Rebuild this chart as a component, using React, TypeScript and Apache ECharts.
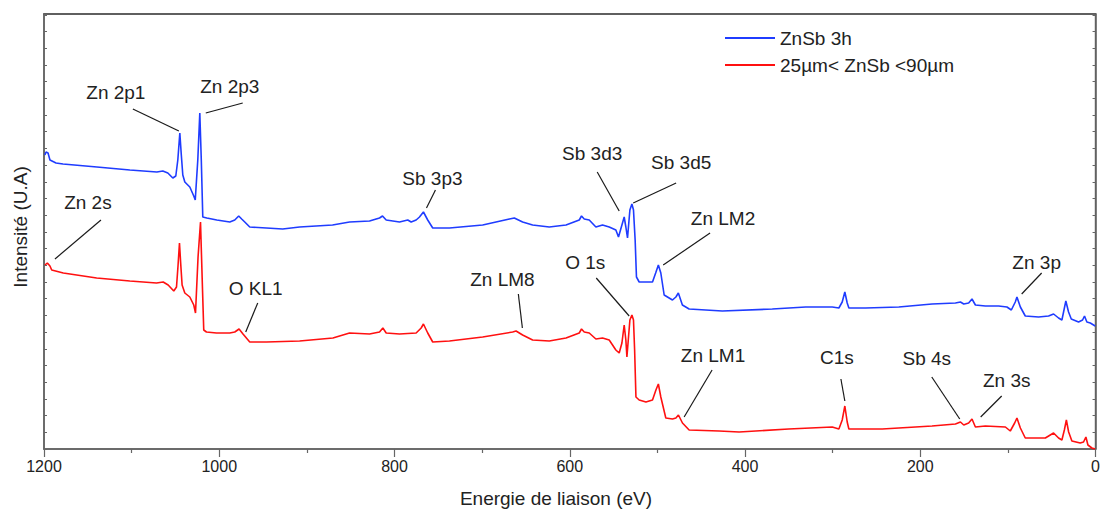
import React, { useEffect, useRef } from "react";
import * as echarts from "echarts";

// Binding energy (eV), intensity (a.u.)
const blueName = "ZnSb 3h";
const redName = "25µm< ZnSb <90µm";

const blueSpectrum: [number, number][] = [
  [1199, 294], [1197.7, 297], [1195.4, 296], [1193.2, 289], [1186.3, 286], [1178.3, 285], [1139.6, 282], [1102, 279],
  [1071.2, 277], [1064.4, 278], [1058.7, 276], [1053, 271], [1049.6, 273], [1047.3, 289], [1045, 316], [1043.3, 294],
  [1041.6, 274], [1039.3, 267], [1033.6, 262], [1029.1, 253], [1027.4, 249], [1024.5, 289], [1022.2, 336], [1020.5, 289],
  [1018.8, 232], [1014.2, 231], [1002.8, 229], [988, 227], [982.3, 229], [977.8, 233], [974.4, 230], [970.9, 227],
  [965.2, 222], [946.2, 221], [927.6, 220], [908.3, 222], [870.7, 224], [851.3, 227], [828.5, 228], [817.1, 231],
  [813.7, 233], [809.5, 229], [794.3, 227], [784.9, 229], [781, 227], [775.3, 229], [771.5, 232], [767, 237],
  [762.1, 229], [756.4, 221], [737.3, 221], [699.4, 224], [668.9, 230], [663.3, 231], [653.8, 227], [642.4, 224],
  [623.4, 222], [604.3, 224], [589.2, 229], [586.6, 233], [583.5, 230], [577.8, 229], [570.2, 222], [562.6, 224],
  [555, 222], [547.4, 219], [544.4, 212], [540.5, 224], [537.9, 232], [536, 222], [534.1, 211], [531.4, 239],
  [529.1, 245], [527.3, 239], [525.4, 209], [523.9, 172], [520.8, 167], [505.6, 167], [502, 176], [498.9, 184],
  [496.1, 176], [492.3, 154], [482.8, 149], [478.9, 152], [476.1, 156], [471.5, 144], [463.8, 140], [425.9, 138],
  [368.9, 140], [330.8, 142], [300.5, 142], [292.9, 141], [289.1, 147], [286.1, 157], [283.4, 146], [281.5, 141],
  [262.5, 141], [224.5, 142], [186.6, 145], [159.9, 146], [154.2, 147], [150.4, 145], [144.8, 146], [141, 150],
  [137.1, 144], [125.7, 143], [110.6, 143], [101.1, 142], [96.1, 139], [91.6, 147], [89.7, 152], [85.8, 142],
  [80.2, 133], [65, 132], [53.6, 133], [47.9, 135], [42.2, 131], [38.4, 129], [36.5, 137], [33.9, 148],
  [30.8, 137], [27.7, 130], [19.4, 127], [14.8, 129], [12.6, 133], [9.9, 127], [6, 126], [0.4, 123],
];

const redSpectrum: [number, number][] = [
  [1199, 184], [1196.2, 186], [1193.2, 183], [1191.2, 179], [1178, 176], [1139.9, 171], [1102, 168], [1071.6, 166],
  [1064, 167], [1058.3, 164], [1051.9, 158], [1048.8, 162], [1047, 184], [1045.4, 206], [1043.9, 184], [1042.4, 164],
  [1039.3, 156], [1033.6, 152], [1029.1, 144], [1027.1, 136], [1024.2, 192], [1021.4, 227], [1019.1, 159], [1017.7, 119],
  [1014.6, 117], [1003.2, 116], [988, 116], [982.3, 117], [977.4, 120], [972.9, 115], [965.2, 107], [946.2, 107],
  [908.3, 108], [870.3, 111], [851.3, 116], [828.5, 115], [817.1, 117], [813.3, 121], [809.5, 116], [794.3, 115],
  [775.3, 116], [769.6, 121], [767, 125], [762.1, 116], [756.4, 107], [737.3, 108], [699.4, 112], [665.2, 117],
  [661.3, 118], [653.8, 114], [642.4, 109], [623.4, 108], [604.3, 111], [589.2, 116], [586.6, 120], [583.5, 117],
  [577.8, 116], [570.2, 110], [562.6, 111], [555, 109], [547.4, 99], [543.6, 96], [540.5, 106], [537.9, 124],
  [536, 109], [534.8, 92], [531.4, 129], [529.1, 134], [527.3, 129], [526, 99], [524.5, 52], [520.8, 49],
  [513.1, 47], [505.6, 49], [501.7, 59], [498.9, 65], [496.1, 52], [490.4, 31], [482.8, 30], [478.9, 31],
  [476, 34], [471.4, 26], [463.8, 19], [429.6, 18], [406.8, 17], [350.2, 20], [300.5, 22], [292.9, 20],
  [289.1, 29], [286.1, 43], [283.4, 27], [281.5, 20], [243.5, 20], [186.6, 23], [159.9, 25], [154.2, 27],
  [150.4, 24], [144.8, 26], [141, 30], [137.1, 22], [125.7, 23], [102.9, 22], [97.3, 18], [92.3, 26],
  [89.7, 31], [85.8, 21], [80.2, 11], [57.3, 11], [47.9, 16], [42.2, 11], [38.4, 9], [35.6, 19],
  [33.3, 29], [30.7, 17], [27, 8], [17.5, 6], [13.7, 7], [11, 12], [8.7, 4], [4.2, 1], [0.4, 0],
];

// Peak annotations: label position, leader-line start and end (energy, intensity)
const annotations: { text: string; label: [number, number]; from: [number, number]; to: [number, number] }[] = [
  { text: "Zn 2p1", label: [1118, 357], from: [1098.6, 340], to: [1046.1, 318] },
  { text: "Zn 2p3", label: [988, 363], from: [1015.4, 336], to: [973.2, 346] },
  { text: "Zn 2s", label: [1149.9, 247], from: [1135, 229], to: [1187.5, 190] },
  { text: "Sb 3p3", label: [756.7, 271], from: [753.3, 259], to: [763.5, 241] },
  { text: "Sb 3d3", label: [574.4, 296], from: [568.7, 277], to: [543.6, 238] },
  { text: "Sb 3d5", label: [472.9, 287], from: [478.6, 266], to: [527.6, 246] },
  { text: "Zn LM2", label: [425.1, 231], from: [439.9, 216], to: [493.4, 184] },
  { text: "O 1s", label: [582.3, 187], from: [569.8, 171], to: [532.2, 133] },
  { text: "Zn LM8", label: [676.9, 170], from: [658.7, 155], to: [654.1, 121] },
  { text: "O KL1", label: [958.4, 161], from: [956.1, 146], to: [969.8, 117] },
  { text: "Zn LM1", label: [436.5, 94], from: [437.6, 79], to: [469.5, 32] },
  { text: "C1s", label: [295.2, 92], from: [290.6, 70], to: [286.1, 48] },
  { text: "Sb 4s", label: [192.6, 91], from: [186.9, 72], to: [155, 30] },
  { text: "Zn 3s", label: [101.4, 69], from: [107.1, 53], to: [131.1, 32] },
  { text: "Zn 3p", label: [67.2, 187], from: [61.5, 176], to: [84.3, 155] },
];

const xTitle = "Energie de liaison (eV)";
const yTitle = "Intensité (U.A)";

const FONT = "'Liberation Sans', Arial, sans-serif";
const TEXT = "#222222";
const AXIS = "#666666";

export default function App() {
  const ref = useRef<HTMLDivElement>(null);
  useEffect(() => {
    document.body.style.margin = "0";
    if (!ref.current) return;
    const chart = echarts.init(ref.current, undefined, { renderer: "svg" });
    const yMax = 435;
    const yInt = 16.7;
    chart.setOption({
      animation: false,
      backgroundColor: "#ffffff",
      grid: {
        left: 44,
        right: 6,
        top: 14,
        bottom: 61,
        containLabel: false,
        show: true,
        borderColor: "#555555",
        borderWidth: 1.5,
        backgroundColor: "transparent",
      },
      legend: {
        left: 720,
        top: 23,
        orient: "vertical",
        icon: "rect",
        itemWidth: 50,
        itemHeight: 2,
        itemGap: 7,
        textStyle: { fontSize: 19, color: TEXT, fontFamily: FONT, lineHeight: 20 },
        data: [blueName, redName],
      },
      xAxis: [
        {
          type: "value",
          position: "bottom",
          min: 0,
          max: 1200,
          interval: 200,
          inverse: true,
          axisLine: { show: true, onZero: false, lineStyle: { color: AXIS, width: 1.5 } },
          axisTick: { show: true, inside: false, length: 8, lineStyle: { color: AXIS, width: 1.2 } },
          minorTick: { show: true, splitNumber: 2, length: 4, lineStyle: { color: AXIS, width: 1.2 } },
          axisLabel: {
            fontSize: 16,
            color: TEXT,
            fontFamily: FONT,
            margin: 9,
            formatter: (v: number) => String(v),
          },
          splitLine: { show: false },
        },
        {
          type: "value",
          position: "top",
          min: 0,
          max: 1200,
          inverse: true,
          axisLine: { show: true, onZero: false, lineStyle: { color: "#555555", width: 1.5 } },
          axisTick: { show: false },
          axisLabel: { show: false },
          splitLine: { show: false },
        },
      ],
      yAxis: [
        {
          type: "value",
          position: "left",
          min: 0,
          max: yMax,
          interval: yInt,
          axisLine: { show: true, onZero: false, lineStyle: { color: AXIS, width: 1.5 } },
          axisTick: { show: true, inside: true, length: 3, lineStyle: { color: AXIS, width: 1 } },
          axisLabel: { show: false },
          splitLine: { show: false },
        },
        {
          type: "value",
          position: "right",
          min: 0,
          max: yMax,
          interval: yInt,
          axisLine: { show: true, onZero: false, lineStyle: { color: AXIS, width: 1.5 } },
          axisTick: { show: true, inside: true, length: 3, lineStyle: { color: AXIS, width: 1 } },
          axisLabel: { show: false },
          splitLine: { show: false },
        },
      ],
      series: [
        {
          name: blueName,
          type: "line",
          xAxisIndex: 0,
          yAxisIndex: 0,
          data: blueSpectrum,
          symbol: "none",
          lineStyle: { color: "#1f3cff", width: 1.6 },
          itemStyle: { color: "#1f3cff" },
        },
        {
          name: redName,
          type: "line",
          xAxisIndex: 0,
          yAxisIndex: 0,
          data: redSpectrum,
          symbol: "none",
          lineStyle: { color: "#ff1010", width: 1.6 },
          itemStyle: { color: "#ff1010" },
        },
      ],
    });

    const px = (p: [number, number]) =>
      chart.convertToPixel({ xAxisIndex: 0, yAxisIndex: 0 }, p) as number[];
    const graphics: any[] = [];
    annotations.forEach((a) => {
      const l = px(a.label);
      const f = px(a.from);
      const t = px(a.to);
      graphics.push({
        type: "line",
        shape: { x1: f[0], y1: f[1], x2: t[0], y2: t[1] },
        style: { stroke: "#1a1a1a", lineWidth: 1.2 },
        z: 10,
      });
      graphics.push({
        type: "text",
        x: l[0],
        y: l[1],
        style: {
          text: a.text,
          fontSize: 19,
          fontFamily: FONT,
          fill: TEXT,
          align: "center",
          verticalAlign: "middle",
        },
        z: 10,
      });
    });
    graphics.push({
      type: "text",
      x: 556,
      y: 498,
      style: { text: xTitle, fontSize: 19, fontFamily: FONT, fill: TEXT, align: "center", verticalAlign: "middle" },
    });
    graphics.push({
      type: "text",
      x: 20,
      y: 227,
      rotation: Math.PI / 2,
      style: { text: yTitle, fontSize: 19, fontFamily: FONT, fill: TEXT, align: "center", verticalAlign: "middle" },
    });
    chart.setOption({ graphic: graphics });

    return () => chart.dispose();
  }, []);
  return <div ref={ref} style={{ width: 1103, height: 510 }} />;
}
